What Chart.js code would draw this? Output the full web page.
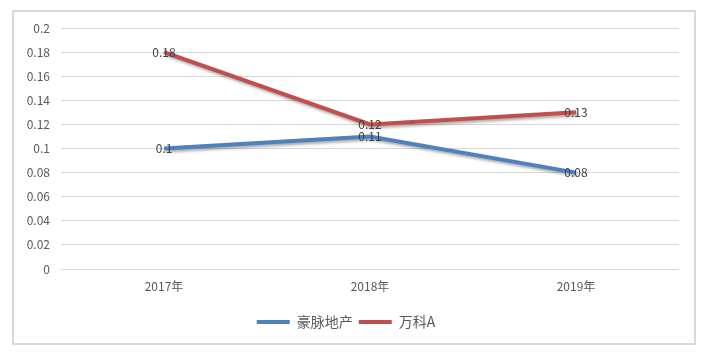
<!DOCTYPE html>
<html>
<head>
<meta charset="utf-8">
<script src="https://cdn.jsdelivr.net/npm/chart.js@4.4.1/dist/chart.umd.min.js"></script>
<style>
  html, body { margin: 0; padding: 0; background: #fff; }
  #wrap { width: 707px; height: 352px; }
</style>
</head>
<body>
<div id="wrap"><canvas id="c" width="707" height="352"></canvas></div>
<script>
// chart data
const years = ['2017年', '2018年', '2019年'];
const haomai = [0.1, 0.11, 0.08];
const vanke = [0.18, 0.12, 0.13];
const yTicks = [0, 0.02, 0.04, 0.06, 0.08, 0.1, 0.12, 0.14, 0.16, 0.18, 0.2];

const FONT = '"Noto Sans CJK SC", "Noto Sans", sans-serif';

// light grey frame around the whole chart
const framePlugin = {
  id: 'frame',
  beforeDraw(chart) {
    const ctx = chart.ctx;
    ctx.save();
    ctx.strokeStyle = '#d9d9d9';
    ctx.lineWidth = 2;
    ctx.strokeRect(13, 11, 682, 333);
    ctx.restore();
  }
};

// soft shadow under the lines
const shadowPlugin = {
  id: 'lineShadow',
  beforeDatasetDraw(chart) {
    const ctx = chart.ctx;
    ctx.save();
    ctx.shadowColor = 'rgba(0,0,0,0.35)';
    ctx.shadowBlur = 3;
    ctx.shadowOffsetX = 1.5;
    ctx.shadowOffsetY = 2;
  },
  afterDatasetDraw(chart) {
    chart.ctx.restore();
  }
};

// value labels centred on each point
const labelPlugin = {
  id: 'valueLabels',
  afterDatasetsDraw(chart) {
    const ctx = chart.ctx;
    ctx.save();
    ctx.font = '12px ' + FONT;
    ctx.fillStyle = '#404040';
    ctx.textAlign = 'center';
    ctx.textBaseline = 'middle';
    chart.data.datasets.forEach((ds, i) => {
      chart.getDatasetMeta(i).data.forEach((pt, j) => {
        ctx.fillText(String(ds.data[j]), pt.x, pt.y);
      });
    });
    ctx.restore();
  }
};

new Chart(document.getElementById('c'), {
  type: 'line',
  data: {
    labels: years,
    datasets: [
      {
        label: '豪脉地产',
        data: haomai,
        borderColor: '#4f81bd',
        backgroundColor: '#4f81bd',
        borderWidth: 4,
        pointRadius: 0,
        tension: 0
      },
      {
        label: '万科A',
        data: vanke,
        borderColor: '#c0504d',
        backgroundColor: '#c0504d',
        borderWidth: 4,
        pointRadius: 0,
        tension: 0
      }
    ]
  },
  options: {
    responsive: false,
    animation: false,
    layout: { padding: { top: 28, left: 13, right: 28, bottom: 13 } },
    plugins: {
      tooltip: { enabled: false },
      legend: {
        position: 'bottom',
        labels: {
          font: { family: FONT, size: 14 },
          color: '#595959',
          boxWidth: 33,
          boxHeight: 4,
          padding: 6,
          generateLabels(chart) {
            return chart.data.datasets.map((ds, i) => ({
              text: ds.label,
              fillStyle: ds.borderColor,
              strokeStyle: ds.borderColor,
              lineWidth: 0,
              fontColor: '#595959',
              hidden: false,
              datasetIndex: i
            }));
          }
        }
      }
    },
    scales: {
      x: {
        offset: true,
        grid: { display: false, drawTicks: false },
        border: { display: false },
        ticks: { font: { family: FONT, size: 12 }, color: '#595959', padding: 10 },
        afterFit(s) { s.height = 40; }
      },
      y: {
        min: 0,
        max: 0.2,
        afterBuildTicks(s) { s.ticks = yTicks.map(v => ({ value: v })); },
        grid: { color: '#d9d9d9', lineWidth: 1, drawTicks: false },
        border: { display: false },
        ticks: {
          font: { family: FONT, size: 12 },
          color: '#595959',
          padding: 11,
          callback: v => String(Math.round(v * 100) / 100)
        },
        afterFit(s) { s.width = 48; }
      }
    }
  },
  plugins: [framePlugin, shadowPlugin, labelPlugin]
});
</script>
</body>
</html>
